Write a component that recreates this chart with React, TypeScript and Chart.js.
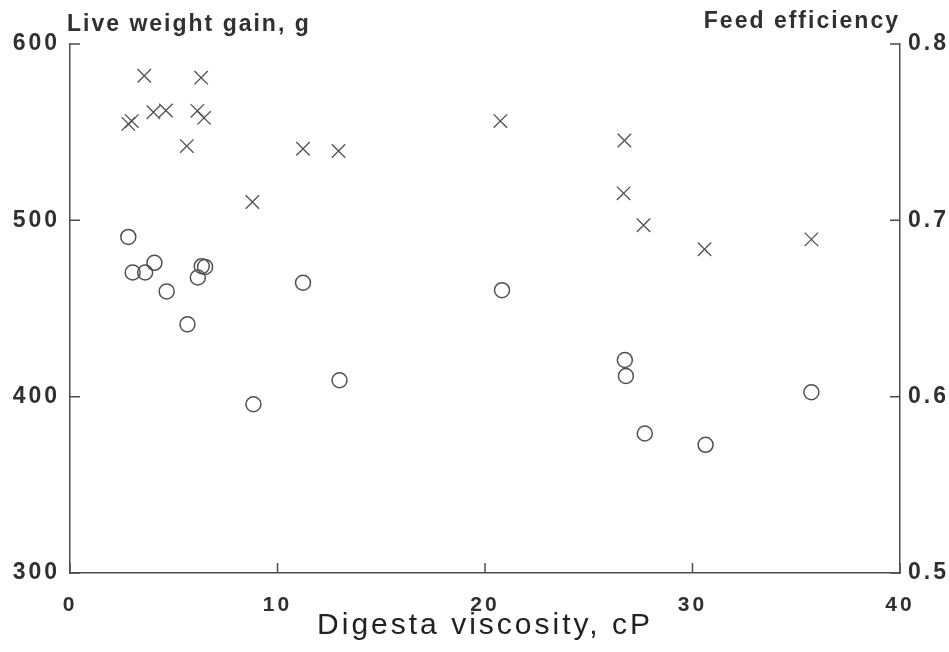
import React, { useEffect, useRef } from 'react';
import { Chart, registerables } from 'chart.js';

Chart.register(...registerables);

// Digesta viscosity (cP) for each live weight gain point (crosses)
const gainViscosity = [2.81, 2.98, 3.58, 4.02, 4.62, 5.63, 6.14, 6.32, 6.46, 8.79, 11.23, 12.94, 20.74, 26.72, 26.68, 27.64, 30.58, 35.73];
// Live weight gain, g
const liveWeightGain = [554.7, 556.3, 582, 561.3, 562.3, 542.1, 562.1, 580.9, 558.1, 510.4, 540.6, 539.3, 556.3, 545.3, 515.3, 497.2, 483.6, 489.2];

// Digesta viscosity (cP) for each feed efficiency point (circles)
const effViscosity = [2.81, 3.02, 3.62, 4.07, 4.66, 5.66, 6.16, 6.35, 6.51, 8.84, 11.23, 12.99, 20.82, 26.74, 26.79, 27.7, 30.63, 35.73];
// Feed efficiency
const feedEfficiency = [0.6906, 0.6704, 0.6704, 0.6759, 0.6597, 0.641, 0.6676, 0.674, 0.6736, 0.5957, 0.6646, 0.6093, 0.6604, 0.6208, 0.6117, 0.5791, 0.5727, 0.6025];

const viscosityTicks = [0, 10, 20, 30, 40];
const gainTicks = [300, 400, 500, 600];
const efficiencyTicks = [0.5, 0.6, 0.7, 0.8];

const xTitle = 'Digesta viscosity, cP';
const leftTitle = 'Live weight gain, g';
const rightTitle = 'Feed efficiency';

const INK = '#303030';
const LINE = '#4d4d4d';
const MARK = '#505050';
const FONT = '"Liberation Sans", Arial, Helvetica, sans-serif';

const inwardTicks = {
  id: 'inwardTicks',
  beforeDraw(chart: any) {
    chart.ctx.letterSpacing = '3px';
  },
  afterDraw(chart: any) {
    const ctx = chart.ctx;
    const { left, right, top, bottom } = chart.chartArea;
    const len = 10;
    ctx.save();
    ctx.strokeStyle = LINE;
    ctx.lineWidth = 1.5;
    ctx.beginPath();
    const sx = chart.scales.x;
    sx.ticks.forEach((t: any) => {
      const px = sx.getPixelForValue(t.value);
      ctx.moveTo(px, bottom);
      ctx.lineTo(px, bottom - len);
    });
    const sy = chart.scales.y;
    sy.ticks.forEach((t: any) => {
      const py = sy.getPixelForValue(t.value);
      ctx.moveTo(left, py);
      ctx.lineTo(left + len, py);
    });
    const sy1 = chart.scales.y1;
    sy1.ticks.forEach((t: any) => {
      const py = sy1.getPixelForValue(t.value);
      ctx.moveTo(right, py);
      ctx.lineTo(right - len, py);
    });
    ctx.stroke();

    // axis titles at the top of each y axis
    ctx.fillStyle = INK;
    ctx.font = `bold 23px ${FONT}`;
    ctx.letterSpacing = '2px';
    ctx.textBaseline = 'alphabetic';
    ctx.textAlign = 'left';
    ctx.fillText(leftTitle, left - 3, top - 13);
    ctx.textAlign = 'right';
    ctx.fillText(rightTitle, right, top - 16);
    ctx.restore();
  },
};

export default function App() {
  const ref = useRef<HTMLCanvasElement | null>(null);

  useEffect(() => {
    if (!ref.current) return;
    const chart = new Chart(ref.current, {
      type: 'scatter',
      data: {
        datasets: [
          {
            label: leftTitle,
            data: gainViscosity.map((x, i) => ({ x, y: liveWeightGain[i] })),
            yAxisID: 'y',
            pointStyle: 'crossRot',
            pointRadius: 9.5,
            borderColor: MARK,
            backgroundColor: MARK,
            borderWidth: 1.3,
          },
          {
            label: rightTitle,
            data: effViscosity.map((x, i) => ({ x, y: feedEfficiency[i] })),
            yAxisID: 'y1',
            pointStyle: 'circle',
            pointRadius: 7.5,
            borderColor: MARK,
            backgroundColor: 'rgba(0,0,0,0)',
            borderWidth: 1.5,
          },
        ],
      },
      options: {
        animation: false,
        responsive: false,
        devicePixelRatio: 1,
        layout: { padding: { top: 44, left: 0, right: 0, bottom: 0 } },
        plugins: {
          legend: { display: false },
          tooltip: { enabled: false },
        },
        scales: {
          x: {
            type: 'linear',
            position: 'bottom',
            min: 0,
            max: 40,
            afterBuildTicks: (s: any) => {
              s.ticks = viscosityTicks.map((v) => ({ value: v }));
            },
            afterFit: (s: any) => {
              s.height = 652 - 573;
            },
            grid: { drawOnChartArea: false, drawTicks: false },
            border: { display: true, color: LINE, width: 1.5 },
            ticks: {
              color: INK,
              padding: 20,
              maxRotation: 0,
              font: { family: FONT, size: 21, weight: 'bold' },
            },
            title: {
              display: true,
              text: xTitle,
              color: '#222222',
              font: { family: FONT, size: 30, weight: 'normal' },
              padding: { top: 0, bottom: 8 },
            },
          },
          y: {
            type: 'linear',
            position: 'left',
            min: 300,
            max: 600,
            afterBuildTicks: (s: any) => {
              s.ticks = gainTicks.map((v) => ({ value: v }));
            },
            afterFit: (s: any) => {
              s.width = 70;
            },
            grid: { drawOnChartArea: false, drawTicks: false },
            border: { display: true, color: LINE, width: 1.5 },
            ticks: {
              color: INK,
              padding: 10,
              font: { family: FONT, size: 23, weight: 'bold' },
            },
          },
          y1: {
            type: 'linear',
            position: 'right',
            min: 0.5,
            max: 0.8,
            afterBuildTicks: (s: any) => {
              s.ticks = efficiencyTicks.map((v) => ({ value: v }));
            },
            afterFit: (s: any) => {
              s.width = 949 - 900;
            },
            grid: { drawOnChartArea: false, drawTicks: false },
            border: { display: true, color: LINE, width: 1.5 },
            ticks: {
              color: INK,
              padding: 8,
              font: { family: FONT, size: 23, weight: 'bold' },
              callback: (v: any) => Number(v).toFixed(1),
            },
          },
        },
      },
      plugins: [inwardTicks],
    });
    return () => chart.destroy();
  }, []);

  return (
    <div style={{ position: 'fixed', left: 0, top: 0, width: 949, height: 652, background: '#ffffff' }}>
      <canvas ref={ref} width={949} height={652} style={{ display: 'block' }} />
    </div>
  );
}
